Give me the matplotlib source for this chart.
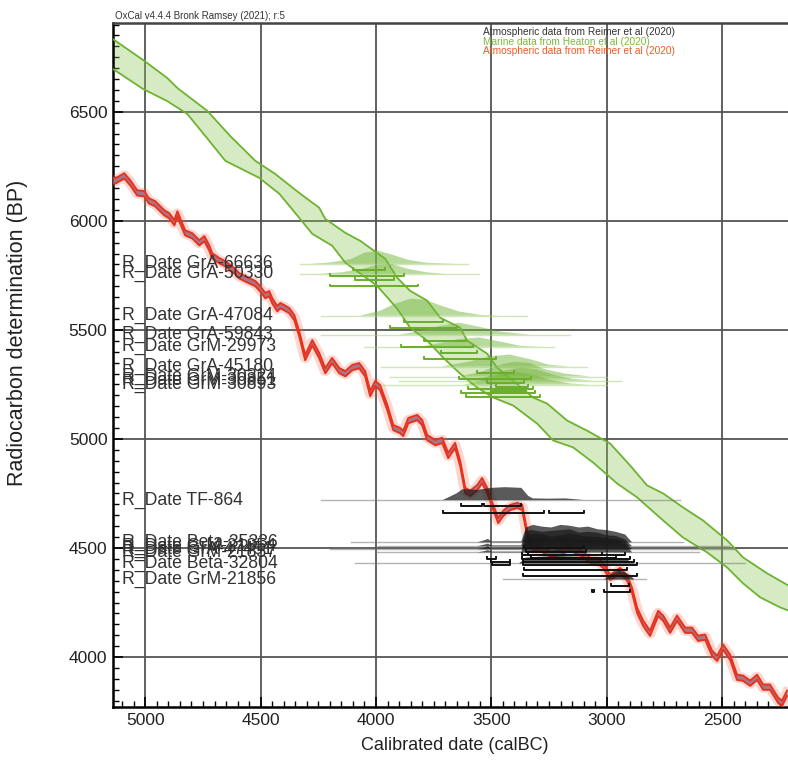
import matplotlib
matplotlib.use("Agg")
import matplotlib.pyplot as plt
import matplotlib.transforms as mtransforms
import numpy as np

plt.rcParams['font.family'] = ['Liberation Sans', 'DejaVu Sans']

# IntCal20 atmospheric curve (calBC, BP)
red_years = [5140, 5130, 5091, 5065, 5035, 5004, 4985, 4957, 4918, 4896, 4874, 4861, 4840, 4827,
             4796, 4766, 4744, 4723, 4710, 4679, 4653, 4614, 4593, 4567, 4523, 4506, 4490, 4480,
             4463, 4450, 4428, 4415, 4398, 4376, 4354, 4333, 4307, 4276, 4246, 4220, 4190, 4159,
             4133, 4103, 4073, 4047, 4025, 4003, 3982, 3951, 3925, 3895, 3882, 3860, 3821, 3800,
             3778, 3743, 3713, 3687, 3657, 3635, 3613, 3592, 3561, 3540, 3518, 3492, 3470, 3449,
             3418, 3388, 3366, 3345, 3320, 3288, 3240, 3202, 3160, 3137, 3100, 3072, 3041, 3015,
             2985, 2942, 2911, 2890, 2868, 2842, 2812, 2777, 2755, 2725, 2695, 2660, 2630, 2604,
             2573, 2543, 2521, 2495, 2465, 2435, 2409, 2378, 2348, 2322, 2292, 2257, 2240, 2218]
red_bp = [6185, 6183, 6206, 6174, 6128, 6124, 6092, 6078, 6037, 6023, 5991, 6032, 5977, 5945,
          5931, 5899, 5918, 5876, 5840, 5817, 5803, 5771, 5748, 5734, 5712, 5693, 5672, 5657,
          5666, 5634, 5597, 5611, 5602, 5588, 5556, 5483, 5373, 5441, 5382, 5313, 5359, 5313,
          5299, 5327, 5336, 5299, 5208, 5254, 5235, 5144, 5052, 5038, 5025, 5084, 5098, 5075,
          5006, 4983, 4993, 4924, 4970, 4887, 4764, 4750, 4777, 4809, 4764, 4686, 4626, 4658,
          4686, 4695, 4686, 4567, 4500, 4498, 4470, 4480, 4500, 4489, 4470, 4443, 4443, 4420,
          4365, 4397, 4361, 4306, 4214, 4155, 4109, 4200, 4178, 4123, 4178, 4123, 4123, 4086,
          4091, 4017, 3994, 4045, 3999, 3907, 3903, 3880, 3907, 3862, 3862, 3802, 3788, 3834]
red_sigma = 12

# Marine20 curve, upper and lower edge of the band
mar_up_years = [5140, 5009, 4905, 4861, 4731, 4632, 4523, 4437, 4333, 4246, 4220, 4133, 4068,
                3960, 3908, 3852, 3778, 3722, 3635, 3605, 3518, 3475, 3405, 3319, 3258, 3171,
                3085, 2985, 2898, 2825, 2755, 2669, 2582, 2478, 2409, 2305, 2214]
mar_up_bp = [6833, 6737, 6655, 6609, 6504, 6389, 6275, 6215, 6128, 6060, 6009, 5945, 5908,
             5826, 5739, 5679, 5634, 5556, 5510, 5451, 5391, 5327, 5267, 5190, 5162, 5084,
             5038, 4979, 4878, 4787, 4750, 4686, 4626, 4535, 4457, 4384, 4329]
mar_lo_years = [5140, 5009, 4905, 4818, 4740, 4653, 4506, 4419, 4333, 4276, 4190, 4133, 3995,
                3908, 3852, 3778, 3709, 3635, 3561, 3492, 3405, 3301, 3232, 3145, 3059, 2955,
                2868, 2755, 2669, 2565, 2478, 2409, 2335, 2249, 2214]
mar_lo_bp = [6696, 6604, 6549, 6490, 6389, 6275, 6197, 6124, 6014, 5940, 5886, 5808, 5702,
             5597, 5510, 5451, 5373, 5299, 5235, 5190, 5153, 5070, 4993, 4961, 4892, 4796,
             4732, 4626, 4548, 4480, 4411, 4338, 4274, 4228, 4214]

# marine R_Dates
g_names = ["GrA-66636", "GrA-50330", "GrA-47084", "GrA-59843", "GrM-29973", "GrA-45180",
           "GrM-30324", "GrM-30851", "GrM-30893"]
g_levels = [5803, 5757, 5565, 5478, 5423, 5332, 5286, 5267, 5249]
g_tails = [(4330, 3600), (4330, 3555), (4240, 3345), (4240, 3160), (4050, 3230),
           (3980, 3085), (3940, 3000), (3900, 2940), (3980, 3000)]
g_years = [[4290, 4200, 4110, 4050, 3990, 3930, 3860, 3780, 3650],
           [4250, 4150, 4060, 4000, 3930, 3860, 3780, 3700],
           [4070, 3980, 3920, 3850, 3790, 3720, 3640, 3550, 3460],
           [3900, 3810, 3720, 3640, 3550, 3460, 3330],
           [3810, 3720, 3640, 3550, 3460, 3380, 3290],
           [3720, 3600, 3510, 3420, 3330, 3250, 3160],
           [3640, 3550, 3460, 3400, 3330, 3270, 3180, 3070],
           [3600, 3520, 3440, 3370, 3300, 3230, 3150, 3060],
           [3620, 3540, 3460, 3390, 3320, 3250, 3160, 3080]]
g_probs = [[0, 0.1, 0.35, 0.85, 1.0, 0.7, 0.3, 0.08, 0],
           [0, 0.15, 0.5, 0.9, 1.0, 0.5, 0.15, 0],
           [0, 0.3, 0.7, 1.0, 0.95, 0.6, 0.25, 0.05, 0],
           [0, 0.3, 0.75, 1.0, 0.65, 0.25, 0],
           [0, 0.4, 0.85, 1.0, 0.55, 0.12, 0],
           [0, 0.4, 0.85, 1.0, 0.6, 0.15, 0],
           [0, 0.3, 0.8, 1.0, 0.9, 0.5, 0.2, 0],
           [0, 0.3, 0.8, 1.0, 0.85, 0.45, 0.15, 0],
           [0, 0.35, 0.85, 1.0, 0.8, 0.4, 0.1, 0]]
g_peak = [60, 45, 78, 55, 42, 55, 68, 60, 58]
g_r68 = [[(4100, 3960)], [(4090, 3920)], [(3880, 3710)], [(3790, 3610)], [(3720, 3560)],
         [(3560, 3400)], [(3520, 3360)], [(3480, 3340)], [(3500, 3350)]]
g_r95 = [[(4200, 3880)], [(4200, 3820)], [(3940, 3650)], [(3890, 3580)], [(3790, 3480)],
         [(3640, 3330)], [(3600, 3320)], [(3630, 3310)], [(3610, 3290)]]

# atmospheric R_Dates
b_names = ["TF-864", "Beta-35336", "GrM-21854", "GrA-47451", "GrM-21857", "Beta-32804", "GrM-21856"]
b_levels = [4720, 4526, 4508, 4494, 4480, 4429, 4356]
b_tails = [(4240, 2680), (4110, 2670), (3990, 2470), (4200, 2450), (4000, 2600), (4090, 2400), (3450, 2830)]
plateau_years = [3560, 3530, 3515, 3500, 3370, 3350, 3320, 3280, 3240, 3200, 3160, 3120, 3080,
                 3040, 3000, 2960, 2920, 2890]
b_years = [[3710, 3650, 3625, 3560, 3500, 3440, 3370, 3340, 3320, 3250, 3180, 3100],
           plateau_years, plateau_years, plateau_years, plateau_years,
           [3380, 3350, 3280, 3200, 3120, 3050, 2980, 2920, 2880],
           [3010, 2980, 2950, 2920, 2900, 2880]]
b_probs = [[0, 0.5, 0.8, 0.75, 0.9, 0.95, 0.9, 0.3, 0.12, 0.1, 0.12, 0],
           [0, 0.12, 0.2, 0.05, 0.05, 0.85, 1.0, 0.9, 0.85, 1.0, 0.95, 0.85, 0.9, 0.75, 0.7, 0.6, 0.45, 0],
           [0, 0.1, 0.15, 0.05, 0.05, 0.9, 0.95, 0.85, 0.9, 0.95, 1.0, 0.8, 0.85, 0.8, 0.65, 0.6, 0.4, 0],
           [0, 0.1, 0.2, 0.05, 0.05, 0.8, 1.0, 0.95, 0.8, 0.9, 1.0, 0.9, 0.8, 0.8, 0.7, 0.65, 0.5, 0],
           [0, 0.08, 0.15, 0.05, 0.05, 0.85, 0.95, 0.9, 0.85, 0.95, 0.9, 0.85, 0.9, 0.85, 0.75, 0.7, 0.55, 0],
           [0, 0.6, 0.7, 0.75, 0.7, 0.6, 0.55, 0.5, 0],
           [0, 0.6, 1.0, 0.8, 0.5, 0]]
b_peak = [62, 80, 78, 72, 68, 45, 40]
b_r68 = [[(3630, 3540), (3530, 3370)], [(3360, 3100)], [(3350, 3090)], [(3340, 3020)],
         [(3330, 2960)], [(3360, 2910)], [(2980, 2905)]]
b_r95 = [[(3710, 3270), (3250, 3100)], [(3365, 2920)], [(3520, 3480), (3365, 2900)],
         [(3500, 3420), (3362, 2880)], [(3497, 3418), (3362, 2868)], [(3362, 2870)],
         [(3062, 3056), (3010, 2898)]]

x_major = [5000, 4500, 4000, 3500, 3000, 2500]
y_major = [4000, 4500, 5000, 5500, 6000, 6500]

fig = plt.figure(figsize=(7.88, 7.62), dpi=100)
ax = fig.add_axes([113 / 788, 55 / 762, 675 / 788, 684 / 762])
ax.set_xlim(5140, 2214)
ax.set_ylim(3771, 6907)

ax.set_xticks(x_major)
ax.set_yticks(y_major)
ax.set_xticks(np.arange(2250, 5140, 50), minor=True)
ax.set_yticks(np.arange(3800, 6907, 50), minor=True)
ax.tick_params(which='major', direction='in', length=7, width=1.2, labelsize=12.5, pad=4,
               labelcolor='#222222')
ax.tick_params(which='minor', direction='in', length=4, width=1.0)
ax.grid(which='major', color='#555555', lw=1.3, zorder=0)
ax.set_axisbelow(True)
for s in ['left', 'bottom']:
    ax.spines[s].set_linewidth(1.8)
ax.spines['top'].set_linewidth(1.8)
ax.spines['top'].set_color('#444444')
ax.spines['right'].set_visible(False)

# marine curve band
poly_x = list(mar_up_years) + list(mar_lo_years[::-1])
poly_y = list(mar_up_bp) + list(mar_lo_bp[::-1])
ax.fill(poly_x, poly_y, color='#8cc455', alpha=0.35, lw=0, zorder=2)
ax.plot(mar_up_years, mar_up_bp, color='#6db330', lw=1.3, zorder=3)
ax.plot(mar_lo_years, mar_lo_bp, color='#6db330', lw=1.3, zorder=3)

# atmospheric curve band
ry = np.array(red_years)
rb = np.array(red_bp)
ax.plot(ry, rb, color='#f06040', lw=8, alpha=0.25, zorder=4, solid_joinstyle='round')
ax.fill_between(ry, rb - red_sigma, rb + red_sigma, color='#a4788c', lw=0, zorder=5)
ax.plot(ry, rb + red_sigma, color='#e8321e', lw=1.4, zorder=6)
ax.plot(ry, rb - red_sigma, color='#e8321e', lw=1.4, zorder=6)

lab_tr = mtransforms.blended_transform_factory(ax.transAxes, ax.transData)


def draw_date(name, level, tail, yrs, prob, peak, r68, r95, fill_c, fill_a, tail_c, br_c):
    ax.plot(tail, [level, level], color=tail_c, lw=1.0, alpha=0.55, zorder=7)
    ax.fill(yrs, [level + p * peak for p in prob], color=fill_c, alpha=fill_a, lw=0, zorder=8)
    for off, ranges in [(28, r68), (58, r95)]:
        yb = level - off
        for a, b in ranges:
            ax.plot([a, a, b, b], [yb + 9, yb, yb, yb + 9], color=br_c, lw=1.4, zorder=9)
    ax.text(0.013, level, "R_Date " + name, transform=lab_tr, fontsize=12.7,
            color='#333333', va='center', ha='left', zorder=10)


for i in range(len(g_names)):
    draw_date(g_names[i], g_levels[i], g_tails[i], g_years[i], g_probs[i], g_peak[i],
              g_r68[i], g_r95[i], '#74b63c', 0.5, '#a8d27e', '#6aae2a')

for i in range(len(b_names)):
    draw_date(b_names[i], b_levels[i], b_tails[i], b_years[i], b_probs[i], b_peak[i],
              b_r68[i], b_r95[i], '#1a1a1a', 0.72, '#777777', '#111111')

fig.text(115 / 788, 1 - 16 / 762, "OxCal v4.4.4 Bronk Ramsey (2021); r:5", fontsize=7,
         color='#333333', va='center')
fig.text(483 / 788, 1 - 32 / 762, "Atmospheric data from Reimer et al (2020)", fontsize=7.3,
         color='#333333', va='center')
fig.text(483 / 788, 1 - 42 / 762, "Marine data from Heaton et al (2020)", fontsize=7.3,
         color='#7dbb3c', va='center')
fig.text(483 / 788, 1 - 51 / 762, "Atmospheric data from Reimer et al (2020)", fontsize=7.3,
         color='#f05a28', va='center')

fig.text(455 / 788, 1 - 746 / 762, "Calibrated date (calBC)", fontsize=13, ha='center',
         va='center', color='#222222')
fig.text(18 / 788, 1 - 333 / 762, "Radiocarbon determination (BP)", fontsize=15.5, rotation=90,
         ha='center', va='center', color='#222222')

fig.savefig("out.png", dpi=100)
